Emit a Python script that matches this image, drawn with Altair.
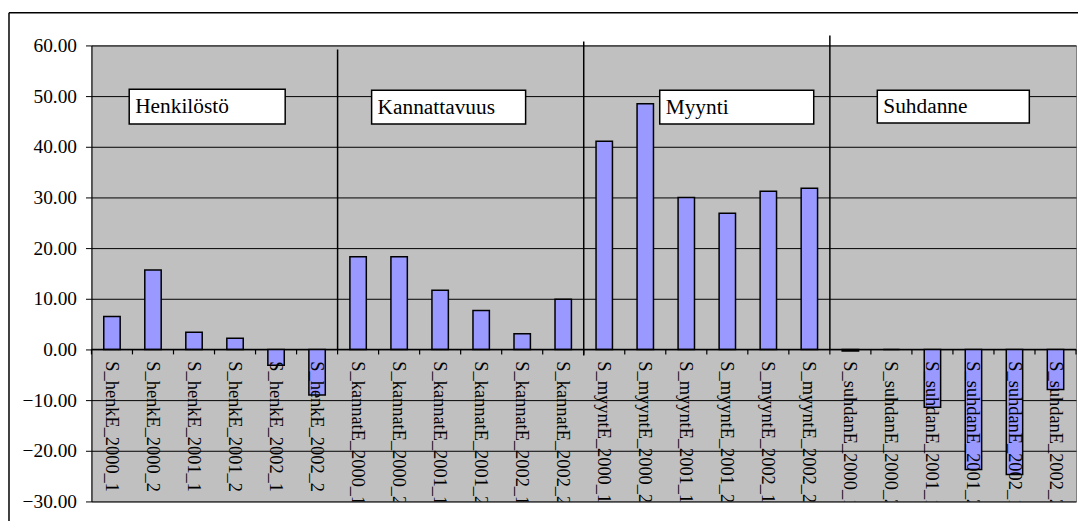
import altair as alt
import pandas as pd

# ---------------- data ----------------
categories = [
    "S_henkE_2000_1", "S_henkE_2000_2", "S_henkE_2001_1", "S_henkE_2001_2", "S_henkE_2002_1", "S_henkE_2002_2",
    "S_kannatE_2000_1", "S_kannatE_2000_2", "S_kannatE_2001_1", "S_kannatE_2001_2", "S_kannatE_2002_1", "S_kannatE_2002_2",
    "S_myyntE_2000_1", "S_myyntE_2000_2", "S_myyntE_2001_1", "S_myyntE_2001_2", "S_myyntE_2002_1", "S_myyntE_2002_2",
    "S_suhdanE_2000_1", "S_suhdanE_2000_2", "S_suhdanE_2001_1", "S_suhdanE_2001_2", "S_suhdanE_2002_1", "S_suhdanE_2002_2",
]
henk_values = [6.5, 15.7, 3.4, 2.2, -3.1, -9.0]
kannat_values = [18.3, 18.3, 11.7, 7.7, 3.1, 9.9]
myynt_values = [41.1, 48.5, 30.0, 26.9, 31.2, 31.8]
suhdan_values = [-0.3, 0.0, -11.4, -23.7, -24.7, -7.9]
group_names = ["Henkilöstö", "Kannattavuus", "Myynti", "Suhdanne"]
y_ticks = [-30, -20, -10, 0, 10, 20, 30, 40, 50, 60]

values = henk_values + kannat_values + myynt_values + suhdan_values
df = pd.DataFrame({"cat": categories, "val": values})

# ---------------- layout ----------------
W, H = 991, 459
ZERO_PX = H * 60 / 90
SERIF = "'Liberation Serif', 'Times New Roman', Tinos, serif"

# text boxes (plot-pixel coordinates): x1, x2, y1, y2
box_layout = [
    (38, 195, 44, 79),
    (282, 437, 45, 79),
    (572, 727, 45, 79),
    (791, 944, 45, 78),
]
# divider lines: group-start category index, top px, bottom px
divider_layout = [(6, 4, ZERO_PX), (12, -4, ZERO_PX + 6), (18, -10, ZERO_PX)]

x_scale = alt.Scale(domain=categories, paddingInner=0, paddingOuter=0)
x_enc = alt.X("cat:N", scale=x_scale, axis=None)
y_enc = alt.Y(
    "val:Q",
    scale=alt.Scale(domain=[-30, 60], nice=False),
    axis=alt.Axis(
        title=None, format=".2f", values=y_ticks, tickSize=6, tickColor="black",
        domainColor="black", labelPadding=9, labelFont=SERIF, labelFontSize=19.5,
        labelColor="black", grid=True, gridColor="black", gridWidth=1, gridOpacity=1,
    ),
)

base = alt.Chart(df)

bars = base.mark_bar(
    width=alt.RelativeBandSize(0.4), fill="#9999FF", stroke="black", strokeWidth=1.5
).encode(x=x_enc, y=y_enc)

# category-axis ticks at band boundaries, hanging below the zero line
ticks = base.mark_rule(color="black", strokeWidth=1.2).encode(
    x=alt.X("cat:N", bandPosition=0, scale=x_scale, axis=None),
    y=alt.value(ZERO_PX), y2=alt.value(ZERO_PX + 5),
)
end_tick = alt.Chart(pd.DataFrame({"cat": [categories[-1]]})).mark_rule(
    color="black", strokeWidth=1.2
).encode(
    x=alt.X("cat:N", bandPosition=1, scale=x_scale, axis=None),
    y=alt.value(ZERO_PX), y2=alt.value(ZERO_PX + 5),
)
one = pd.DataFrame({"a": [0]})
zero_line = alt.Chart(one).mark_rule(color="black", strokeWidth=1.2).encode(
    y=alt.value(ZERO_PX), x=alt.value(0), x2=alt.value(W),
)

labels = base.mark_text(
    angle=90, align="left", baseline="middle", font=SERIF, fontSize=18.5,
    color="black", clip=True,
).encode(x=x_enc, y=alt.value(ZERO_PX + 12), text="cat:N")

layers = [bars, zero_line, ticks, end_tick]

for idx, top, bot in divider_layout:
    d = pd.DataFrame({"cat": [categories[idx]]})
    layers.append(
        alt.Chart(d).mark_rule(color="black", strokeWidth=1.5).encode(
            x=alt.X("cat:N", bandPosition=0, scale=x_scale, axis=None),
            y=alt.value(top), y2=alt.value(bot),
        )
    )

for name, (bx1, bx2, by1, by2) in zip(group_names, box_layout):
    layers.append(
        alt.Chart(one).mark_rect(fill="white", stroke="black", strokeWidth=1.5).encode(
            x=alt.value(bx1), x2=alt.value(bx2), y=alt.value(by1), y2=alt.value(by2)
        )
    )
    layers.append(
        alt.Chart(pd.DataFrame({"t": [name]})).mark_text(
            align="left", baseline="middle", font=SERIF, fontSize=21.5, color="black"
        ).encode(x=alt.value(bx1 + 6), y=alt.value((by1 + by2) / 2 + 1), text="t:N")
    )

layers.append(labels)

# outer chart border (top and left edges visible)
layers.append(
    alt.Chart(one).mark_rule(color="black", strokeWidth=1.5).encode(
        x=alt.value(-83), x2=alt.value(1000), y=alt.value(-33)
    )
)
layers.append(
    alt.Chart(one).mark_rule(color="black", strokeWidth=1.5).encode(
        x=alt.value(-83), y=alt.value(-33), y2=alt.value(500)
    )
)

chart = (
    alt.layer(*layers)
    .properties(
        width=W, height=H,
        autosize=alt.AutoSizeParams(type="none"),
        padding={"left": 84, "top": 36, "right": 2, "bottom": 18},
        background="white",
    )
    .configure_view(fill="#C0C0C0", stroke="#808080", strokeWidth=1)
    .configure_axis(labelFont=SERIF)
    .configure_text(font=SERIF)
)

chart.save("out.html", embed_options={"renderer": "svg", "actions": False})
